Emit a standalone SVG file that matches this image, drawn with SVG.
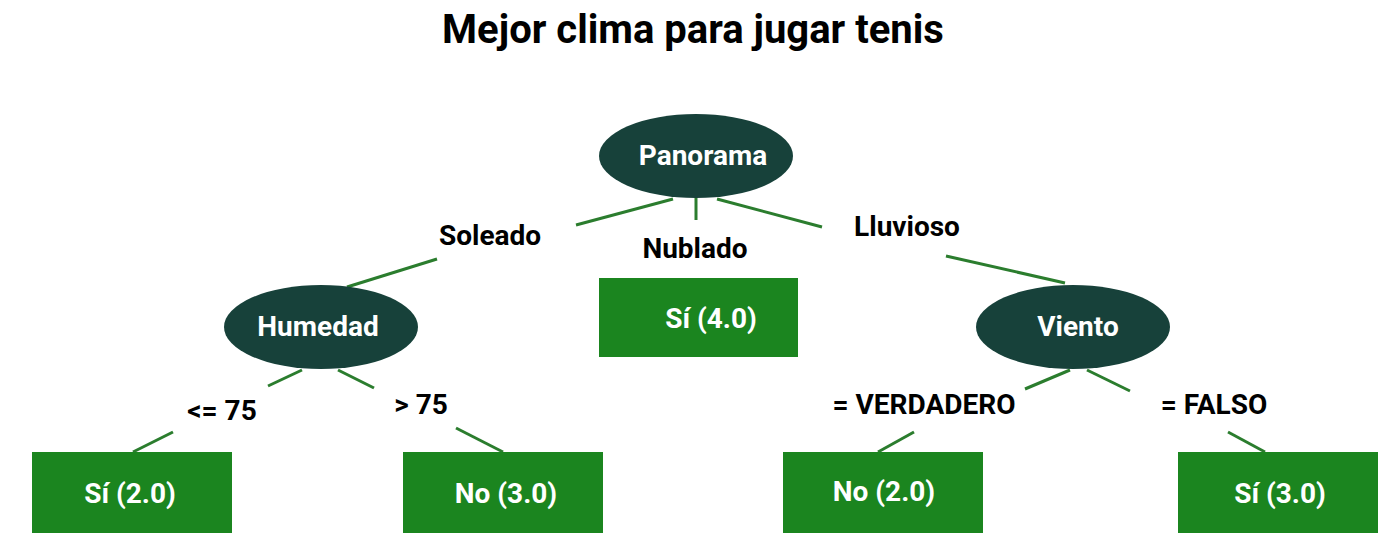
<svg xmlns="http://www.w3.org/2000/svg" width="1400" height="556" viewBox="0 0 1400 556">
<style>
.title{font-family:Roboto,"Liberation Sans",sans-serif;font-weight:700;font-size:40px;fill:#000;text-anchor:middle}
.lbl{font-family:Roboto,"Liberation Sans",sans-serif;font-weight:700;font-size:28px;fill:#000;text-anchor:middle}
.nt{font-family:Roboto,"Liberation Sans",sans-serif;font-weight:700;font-size:28px;fill:#fff;text-anchor:middle}
.ell{fill:#17413a}
.box{fill:#1b851f}
.edge{stroke:#2b7d2e;stroke-width:3;fill:none}
</style>
<rect width="1400" height="556" fill="#fff"/>
<text class="title" x="693" y="43">Mejor clima para jugar tenis</text>
<g id="connectors">
<line class="edge" x1="673" y1="199" x2="576" y2="225"/>
<line class="edge" x1="696" y1="197" x2="696" y2="220"/>
<line class="edge" x1="717" y1="199" x2="822" y2="227"/>
<line class="edge" x1="437" y1="259" x2="347" y2="287"/>
<line class="edge" x1="302" y1="370" x2="268" y2="386"/>
<line class="edge" x1="338" y1="370" x2="374" y2="388"/>
<line class="edge" x1="946" y1="256" x2="1065" y2="283"/>
<line class="edge" x1="1070" y1="370" x2="1025" y2="389"/>
<line class="edge" x1="1087" y1="370" x2="1130" y2="391"/>
<line class="edge" x1="173" y1="432" x2="133" y2="452"/>
<line class="edge" x1="456" y1="428" x2="503" y2="452"/>
<line class="edge" x1="914" y1="432" x2="878" y2="452"/>
<line class="edge" x1="1228" y1="432" x2="1265" y2="452"/>
<text class="lbl" x="490" y="245">Soleado</text>
<text class="lbl" x="695" y="258">Nublado</text>
<text class="lbl" x="907" y="236">Lluvioso</text>
<text class="lbl" x="222" y="420">&lt;= 75</text>
<text class="lbl" x="421" y="414">&gt; 75</text>
<text class="lbl" x="924" y="414">= VERDADERO</text>
<text class="lbl" x="1214" y="414">= FALSO</text>
</g>
<g id="panorama"><ellipse class="ell" cx="696" cy="156" rx="97" ry="42"/><text class="nt" x="703" y="165">Panorama</text></g>
<g id="humedad"><ellipse class="ell" cx="321" cy="327" rx="97" ry="42"/><text class="nt" x="318" y="336">Humedad</text></g>
<g id="viento"><ellipse class="ell" cx="1073" cy="327" rx="97" ry="42"/><text class="nt" x="1078" y="336">Viento</text></g>
<g id="si4"><rect class="box" x="599" y="278" width="199" height="79"/><text class="nt" x="711" y="328">Sí (4.0)</text></g>
<g id="si2"><rect class="box" x="32" y="452" width="200" height="81"/><text class="nt" x="130" y="503">Sí (2.0)</text></g>
<g id="no3"><rect class="box" x="403" y="452" width="200" height="81"/><text class="nt" x="506" y="503">No (3.0)</text></g>
<g id="no2"><rect class="box" x="783" y="452" width="200" height="81"/><text class="nt" x="884" y="501">No (2.0)</text></g>
<g id="si3"><rect class="box" x="1178" y="452" width="200" height="81"/><text class="nt" x="1280" y="503">Sí (3.0)</text></g>
</svg>
